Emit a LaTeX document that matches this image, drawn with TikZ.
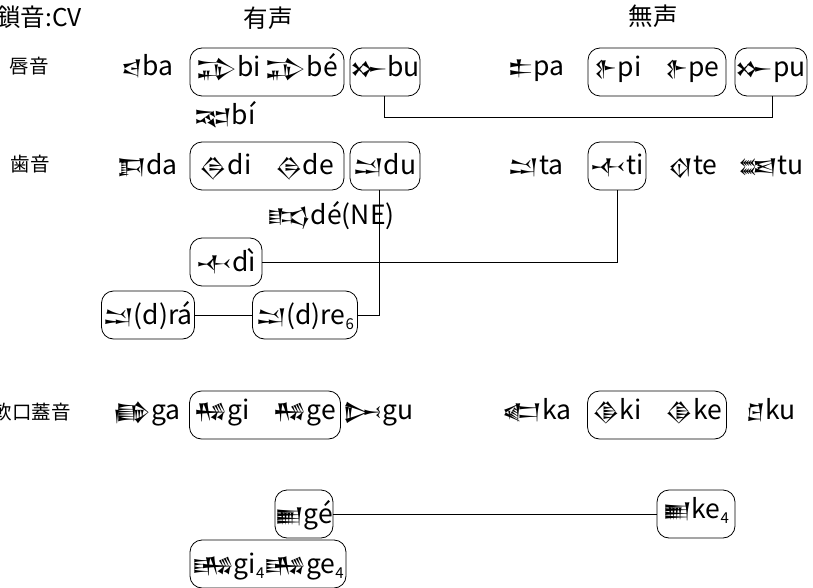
\documentclass[tikz,border=0pt]{standalone}
\usepackage{fontspec}
\setmainfont{Noto Sans CJK JP}
\newfontfamily\cunei[Scale=0.81]{Noto Sans Cuneiform}
\newcommand{\cu}[1]{{\cunei #1}}
\newcommand{\lowidx}[1]{\raisebox{-5pt}{\fontsize{15}{15}\selectfont #1}}
\tikzset{
    cvtext/.style={font=\fontsize{26.5}{30}\selectfont, inner sep=0pt},
    cvfree/.style={cvtext, anchor=base east},
    cvbox/.style={cvtext, draw, rounded corners=12pt, minimum height=48pt, text height=24pt, text depth=6pt},
    cvboxhigh/.style={cvbox, text height=20pt, text depth=11pt},
    headtext/.style={font=\fontsize{24.5}{28}\selectfont, inner sep=0pt},
    placelabel/.style={font=\fontsize{19.5}{22}\selectfont, inner sep=0pt}
}
\begin{document}
\begin{tikzpicture}[x=1pt, y=-1pt, line width=0.8pt]
    \useasboundingbox (0,0) rectangle (813,588);

    % headings
    \draw node[headtext, anchor=base west] (stop) at (-4,27) {鎖音:CV};
    \draw node[headtext] (voiced) at (268,18) {有声};
    \draw node[headtext] (voiceless) at (653,16) {無声};
    \draw node[placelabel] (labial) at (29,66) {唇音};
    \draw node[placelabel] (dental) at (30,164) {歯音};
    \draw node[placelabel, anchor=east] (velar) at (71,412) {軟口蓋音};

    % labial row
    \draw node[cvfree] (ba) at (174,76) {\cu{𒁀}ba};
    \draw node[cvboxhigh, minimum width=154pt] (bibe) at (267,72) {\cu{𒁉}bi\hspace{5pt}\cu{𒁉}bé};
    \draw node[cvboxhigh, minimum width=70pt] (bu) at (385,72) {\cu{𒁍}bu};
    \draw node[cvfree] (bi3) at (256,125) {\cu{𒉈}bí};
    \draw node[cvfree] (pa) at (565,76) {\cu{𒉺}pa};
    \draw node[cvboxhigh, minimum width=138pt] (pipe) at (657,72) {\cu{𒉿}pi\hspace{24pt}\cu{𒉿}pe};
    \draw node[cvboxhigh, minimum width=72pt] (pu) at (771,72) {\cu{𒁍}pu};

    % dental row
    \draw node[cvfree] (da) at (178,175) {\cu{𒁕}da};
    \draw node[cvbox, minimum width=154pt] (dide) at (267,166) {\cu{𒁲}di\hspace{24pt}\cu{𒁲}de};
    \draw node[cvbox, minimum width=70pt] (du) at (385,166) {\cu{𒁺}du};
    \draw node[cvfree] (de2) at (395,224) {\cu{𒌣}dé(NE)};
    \draw node[cvfree] (ta) at (564,175) {\cu{𒁺}ta};
    \draw node[cvbox, minimum width=58pt] (ti) at (617,166) {\cu{𒋾}ti};
    \draw node[cvfree] (te) at (718,175) {\cu{𒋼}te};
    \draw node[cvfree] (tu) at (804,175) {\cu{𒌅}tu};
    \draw node[cvbox, minimum width=72pt] (di3) at (226,262) {\cu{𒋾}dì};
    \draw node[cvbox, minimum width=93pt] (ra2) at (148,315) {\cu{𒁺}(d)rá};
    \draw node[cvbox, minimum width=105pt] (re6) at (305,315) {\cu{𒁺}(d)re\lowidx{6}};

    % velar row
    \draw node[cvfree] (ga) at (181,419) {\cu{𒂵}ga};
    \draw node[cvboxhigh, minimum width=151pt] (gige) at (265,415) {\cu{𒄀}gi\hspace{24pt}\cu{𒄀}ge};
    \draw node[cvfree] (gu) at (414,419) {\cu{𒄖}gu};
    \draw node[cvfree] (ka) at (572,419) {\cu{𒅗}ka};
    \draw node[cvboxhigh, minimum width=139pt] (kike) at (657,415) {\cu{𒆠}ki\hspace{24pt}\cu{𒆠}ke};
    \draw node[cvfree] (ku) at (796,419) {\cu{𒆪}ku};
    \draw node[cvbox, minimum width=58pt] (ge2) at (304,514) {\cu{𒆤}gé};
    \draw node[cvboxhigh, minimum width=78pt] (ke4) at (696,514) {\cu{𒆤}ke\lowidx{4}};
    \draw node[cvbox, minimum width=156pt] (gi4) at (268,564) {\cu{𒄄}gi\lowidx{4}\cu{𒄄}ge\lowidx{4}};

    % same sign, different value
    \coordinate (butap) at (384,96);
    \coordinate (putap) at (772,96);
    \coordinate (dutap) at (379,190);
    \draw (butap) -- ++(0,21) -| (putap);
    \draw (di3.east) -| (ti.south);
    \draw (re6.east) -| (dutap);
    \path[draw]
    (ra2) edge (re6)
    (ge2) edge (ke4);
\end{tikzpicture}
\end{document}
